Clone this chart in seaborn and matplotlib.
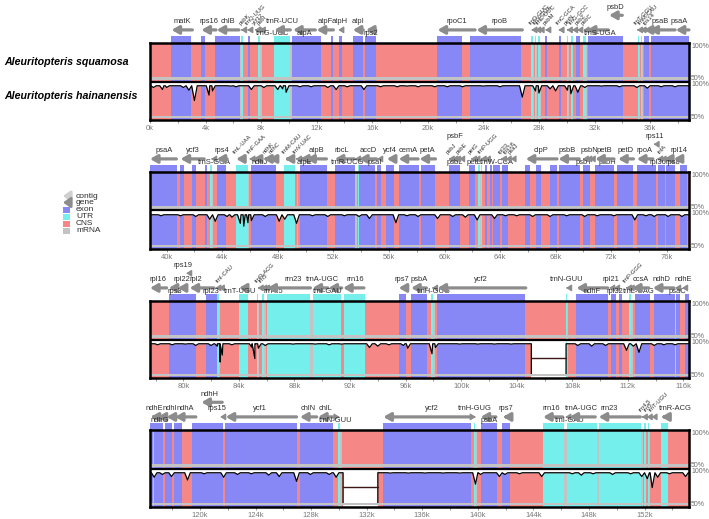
import numpy as np
import matplotlib
matplotlib.use("Agg")
import matplotlib.pyplot as plt
from matplotlib.patches import Rectangle
import seaborn as sns

# ---------------- data (positions in kb) ----------------
panel_starts = [0.0, 38.8, 77.6, 116.4]
panel_len = 38.8
species = ["Aleuritopteris squamosa", "Aleuritopteris hainanensis"]
legend_names = ["contig", "gene", "exon", "UTR", "CNS", "mRNA"]

exon_blocks = [
    (1.5, 2.98), (3.68, 3.93), (4.68, 6.5), (7.05, 7.2), (10.25, 12.3), (13.0, 13.2),
    (13.6, 13.85), (14.63, 15.35), (15.5, 16.25), (20.63, 22.43), (23.0, 26.73),
    (28.45, 28.55), (29.45, 29.55), (30.68, 30.93), (31.5, 34.05), (35.55, 35.93),
    (36.1, 40.73),
    (40.93, 41.23), (41.8, 42.1), (42.73, 42.9), (43.6, 44.3), (46.1, 47.9), (49.6, 51.53),
    (52.15, 53.55), (53.85, 54.98), (55.15, 55.4), (55.8, 56.4), (56.7, 58.15), (58.28, 59.35),
    (60.3, 61.1), (61.73, 62.23), (62.9, 63.05), (63.3, 63.4), (63.48, 63.98), (64.15, 64.6),
    (65.8, 66.18), (66.6, 66.98), (67.6, 68.1), (68.23, 69.73), (69.98, 70.48), (70.85, 72.23),
    (72.4, 73.6), (73.85, 75.23), (75.4, 75.85), (75.98, 76.6), (76.98, 77.48),
    (78.95, 80.9), (81.6, 82.4), (95.53, 96.03), (96.4, 97.53), (98.28, 104.6),
    (108.28, 110.58), (110.82, 111.17), (111.36, 111.6), (112.49, 113.57), (113.86, 115.37),
    (115.5, 115.78), (116.09, 117.33),
    (117.5, 118.0), (118.15, 118.7), (119.45, 121.65), (121.83, 126.95), (127.2, 129.58),
    (133.15, 139.5), (140.25, 141.38), (141.75, 142.28),
]

utr_blocks = [
    (6.58, 6.68), (7.8, 7.95), (8.93, 10.05), (27.45, 27.6), (27.7, 27.82), (27.95, 28.08),
    (30.0, 30.12), (30.3, 30.43), (31.18, 31.35), (35.1, 35.2), (35.35, 35.45),
    (43.1, 43.25), (44.98, 45.85), (48.48, 49.23), (53.75, 53.85), (62.4, 62.55), (62.62, 62.73),
    (82.4, 82.55), (84.03, 84.65), (85.3, 85.38), (85.65, 85.8), (86.03, 89.15), (89.35, 91.35),
    (91.53, 93.1), (97.85, 97.95), (107.55, 107.65), (112.1, 112.2),
    (129.95, 130.05), (139.7, 139.8), (144.7, 146.2), (146.45, 148.58), (148.7, 151.75),
    (151.95, 152.13), (152.25, 152.32), (153.15, 153.7),
]

mrna_lines = [
    (6.5, 6.58), (7.95, 8.05), (10.05, 10.22), (27.6, 27.66), (27.82, 27.88), (28.08, 28.14),
    (30.12, 30.18), (30.43, 30.48), (31.35, 31.45), (35.2, 35.26), (35.45, 35.5),
    (43.25, 43.35), (45.85, 45.92), (49.35, 49.45), (53.55, 53.72), (62.55, 62.62),
    (82.55, 82.65), (85.38, 85.45), (85.8, 85.95), (89.15, 89.3), (97.95, 98.08),
    (107.65, 107.72), (112.25, 112.35), (115.37, 115.5), (116.62, 116.68),
    (130.05, 130.2), (139.8, 139.93), (146.2, 146.45), (148.58, 148.7), (151.75, 151.92),
    (152.32, 152.4),
]

gap_blocks = [(105.05, 107.55), (130.3, 132.8)]

# identity of A. hainanensis vs the reference: baseline and read-off dips
baseline_pct = 95.5
dip_pos = [
    0.25, 0.9, 1.2, 2.4, 2.8, 3.2, 4.25, 4.5, 5.8, 6.2, 7.3, 8.2, 9.2, 9.55, 9.8, 10.8, 11.6,
    12.8, 13.4, 14.2, 15.4, 16.6, 17.8, 18.5, 19.3, 20.5, 21.4, 22.5, 24.0, 25.2, 26.8, 27.75,
    28.0, 28.8, 29.2, 30.05, 30.3, 30.8, 31.3, 32.5, 33.8, 35.05, 35.8, 36.8, 37.8,
    39.6, 41.0, 42.1, 43.1, 43.5, 44.35, 44.7, 45.3, 45.55, 45.85, 46.1, 47.1, 48.1, 48.5,
    49.35, 50.5, 51.6, 52.8, 53.85, 54.6, 56.5, 57.3, 58.1, 59.5, 60.6, 61.5, 62.35, 63.6,
    64.4, 65.2, 66.35, 67.6, 68.8, 70.1, 71.0, 72.2, 73.7, 74.5, 75.1, 76.1, 77.1,
    78.15, 79.2, 80.15, 80.9, 82.0, 82.45, 82.65, 82.8, 83.5, 84.95, 85.15, 85.4, 85.9, 87.9,
    89.5, 90.5, 91.4, 93.4, 94.0, 94.8, 95.85, 96.15, 97.9, 98.15, 99.9, 101.2, 102.4, 103.6,
    108.4, 109.4, 110.4, 111.9, 112.4, 112.8, 113.9, 114.6, 115.4, 116.2,
    116.7, 117.3, 117.95, 119.1, 120.3, 121.7, 122.7, 123.7, 124.95, 125.7, 126.95, 127.95,
    129.3, 129.8, 133.7, 135.0, 136.2, 137.5, 138.7, 139.83, 140.2, 141.55, 141.95, 143.0,
    144.6, 146.8, 147.45, 148.3, 149.7, 151.0, 151.8, 152.2, 152.55, 152.95, 153.8, 154.95,
]
dip_pct = [
    93, 90, 93, 93, 89, 74, 82, 88, 95, 94, 90, 93, 90, 91, 86, 94, 94,
    93, 90, 94, 90, 94, 94, 95, 94, 94, 94, 94, 95, 94, 79, 88,
    85, 91, 88, 89, 84, 86, 93, 95, 94, 93, 92, 94, 94,
    94, 94, 93, 89, 86, 93, 92, 83, 79, 84, 87, 93, 86, 89,
    83, 94, 93, 94, 93, 90, 84, 94, 93, 90, 93, 92, 88, 90,
    94, 94, 93, 93, 94, 93, 94, 94, 88, 94, 93, 93, 93,
    94, 94, 95, 93, 93, 92, 69, 79, 94, 90, 74, 89, 93, 95,
    95, 94, 95, 90, 92, 94, 93, 89, 81, 90, 95, 95, 95, 95,
    93, 92, 93, 86, 92, 83, 93, 94, 94, 90,
    89, 93, 90, 85, 94, 89, 93, 94, 92, 90, 83, 93,
    93, 89, 95, 95, 95, 95, 95, 79, 93, 90, 93, 94,
    90, 94, 92, 94, 93, 94, 90, 87, 74, 89, 94, 90,
]

# genes: (name, start, end, strand, label place, [label x])
genes_p1 = [
    ("matK", 1.55, 3.05, -1, "a"), ("rps16", 3.7, 4.75, -1, "a"), ("chlB", 4.8, 6.4, -1, "a"),
    ("psbK", 6.55, 6.68, -1, "r"), ("trnQ-UUG", 7.0, 7.12, -1, "r"), ("ycf12", 7.55, 7.66, -1, "r"),
    ("psbI", 7.9, 8.0, -1, "r"), ("trnG-UCC", 8.2, 8.32, 1, "b", 8.85),
    ("trnR-UCU", 8.95, 10.1, -1, "a"), ("atpA", 10.3, 11.9, -1, "b"), ("atpF", 12.0, 13.2, -1, "a"),
    ("atpH", 13.55, 13.75, -1, "a"), ("atpI", 14.6, 15.35, -1, "a"), ("rps2", 15.55, 16.25, -1, "b"),
    ("rpoC1", 20.7, 23.4, -1, "a"), ("rpoB", 23.5, 26.8, -1, "a"),
    ("trnD-GUC", 27.45, 27.55, -1, "r"), ("trnY-GUA", 27.72, 27.82, -1, "r"),
    ("trnE-UUC", 27.97, 28.07, -1, "r"), ("psbM", 28.45, 28.55, -1, "r"),
    ("trnC-GCA", 29.4, 29.5, -1, "r"), ("petN", 30.0, 30.1, -1, "r"),
    ("trnG-GCC", 30.38, 30.48, -1, "r"), ("psbZ", 30.75, 30.85, -1, "r"),
    ("psbC", 31.2, 31.3, -1, "r"), ("trnS-UGA", 31.45, 33.0, -1, "b", 32.4),
    ("psbD", 33.05, 34.0, -1, "t"), ("trnT-GGU", 35.05, 35.15, -1, "r"),
    ("trnM-CAU", 35.3, 35.4, -1, "r"), ("rps14", 35.55, 35.9, -1, "r"),
    ("psaB", 35.95, 37.8, -1, "a", 36.7), ("psaA", 37.85, 38.8, -1, "a", 38.1),
]
genes_p2 = [
    ("psaA", 38.8, 40.7, -1, "a", 39.8), ("ycf3", 41.0, 42.7, -1, "a"),
    ("trnS-GGA", 43.2, 43.3, -1, "b", 43.4), ("rps4", 43.6, 44.35, -1, "a"),
    ("trnL-UAA", 45.0, 45.6, -1, "r", 45.0), ("trnF-GAA", 45.95, 46.05, -1, "r"),
    ("ndhJ", 46.2, 46.85, -1, "b", 46.7), ("ndhK", 46.95, 47.3, -1, "r"),
    ("ndhC", 47.35, 47.75, -1, "r"), ("trnM-CAU", 48.5, 48.85, -1, "r", 48.55),
    ("trnV-UAC", 49.3, 49.4, -1, "r"), ("atpE", 49.6, 50.0, -1, "b", 49.95),
    ("atpB", 50.05, 51.5, -1, "a"), ("rbcL", 52.1, 53.5, -1, "a", 52.6),
    ("trnR-UCG", 53.55, 53.7, -1, "b", 53.0), ("accD", 53.85, 55.1, -1, "a"),
    ("psaI", 55.15, 55.3, -1, "b", 54.95), ("ycf4", 55.85, 56.35, -1, "a"),
    ("cemA", 56.7, 58.1, -1, "a"), ("petA", 58.2, 59.35, -1, "a"),
    ("psbJ", 60.3, 60.4, -1, "r"), ("psbL", 60.55, 60.65, -1, "b", 60.7),
    ("psbF", 60.75, 60.85, -1, "T", 60.75), ("psbE", 61.05, 61.15, -1, "r"),
    ("petG", 61.9, 62.0, -1, "r"), ("petL", 62.15, 62.25, -1, "b", 62.1),
    ("trnP-UGG", 62.6, 62.7, -1, "r"), ("trnW-CCA", 62.9, 63.0, -1, "b", 63.75),
    ("rpl33", 64.05, 64.15, -1, "r"), ("rps18", 64.4, 64.5, -1, "r"), ("psaJ", 64.75, 64.85, -1, "r"),
    ("clpP", 65.85, 68.1, -1, "a"), ("psbB", 68.2, 69.7, -1, "a", 68.85),
    ("psbT", 69.95, 70.1, -1, "b", 70.05), ("psbN", 70.2, 70.35, -1, "a", 70.4),
    ("psbH", 70.45, 70.6, -1, "b", 71.7), ("petB", 70.85, 72.2, -1, "a", 71.5),
    ("petD", 72.5, 73.6, -1, "a"), ("rpoA", 73.85, 75.0, -1, "a"),
    ("rps11", 75.05, 75.2, -1, "t"), ("rpl36", 75.3, 75.4, -1, "b", 75.35),
    ("infA", 75.55, 75.65, -1, "r"), ("rps8", 75.8, 76.3, -1, "b", 76.45),
    ("rpl14", 76.5, 77.1, -1, "a", 76.9),
]
genes_p3 = [
    ("rpl16", 77.6, 78.8, -1, "a", 78.15), ("rps3", 78.95, 79.5, -1, "b", 79.4),
    ("rpl22", 79.6, 80.15, -1, "a", 79.9), ("rps19", 80.2, 80.4, -1, "t", 79.95),
    ("rpl2", 80.45, 82.2, -1, "a", 80.9), ("rpl23", 82.3, 82.45, -1, "b", 82.0),
    ("trnI-CAU", 82.55, 82.65, -1, "r"), ("trnT-UGU", 84.0, 84.6, -1, "b", 84.1),
    ("trnR-ACG", 85.35, 85.45, -1, "r"), ("rrn5", 85.6, 85.7, -1, "r"),
    ("rrn4.5", 85.8, 86.0, -1, "b", 86.5), ("rrn23", 86.05, 89.15, -1, "a", 87.9),
    ("trnA-UGC", 89.3, 90.4, -1, "a", 90.0), ("trnI-GAU", 90.45, 91.4, -1, "b", 90.4),
    ("rrn16", 91.5, 93.0, -1, "a", 92.4), ("rps7", 95.5, 96.0, -1, "a", 95.75),
    ("psbA", 96.4, 97.5, -1, "a", 96.95), ("trnH-GUG", 97.9, 98.0, -1, "b", 98.0),
    ("ycf2", 98.3, 104.65, -1, "a", 101.4), ("trnN-GUU", 107.55, 107.65, -1, "a"),
    ("ndhF", 108.3, 110.55, -1, "b", 109.4), ("rpl21", 110.65, 110.85, -1, "a", 110.8),
    ("rpl32", 111.0, 111.15, -1, "b", 111.05), ("trnP-GGG", 111.85, 111.95, -1, "r"),
    ("trnL-UAG", 112.05, 112.15, -1, "b", 112.8), ("ccsA", 112.3, 113.5, -1, "a", 112.9),
    ("ndhD", 113.8, 115.3, -1, "a", 114.45), ("psaC", 115.4, 115.55, -1, "b", 115.55),
    ("ndhE", 115.9, 116.15, -1, "a", 116.0),
]
genes_p4 = [
    ("ndhE", 116.45, 116.8, -1, "a", 116.7), ("ndhG", 116.95, 117.45, -1, "b", 117.1),
    ("ndhI", 117.6, 118.1, -1, "a", 117.85), ("ndhA", 118.2, 119.7, -1, "a", 118.95),
    ("ndhH", 120.1, 121.6, -1, "t", 120.65), ("rps15", 121.45, 121.7, -1, "a", 121.2),
    ("ycf1", 121.85, 126.95, -1, "a", 124.3), ("chlN", 127.2, 128.4, -1, "a"),
    ("chlL", 128.5, 129.6, -1, "a"), ("trnN-GUU", 129.95, 130.05, 1, "b", 129.75),
    ("ycf2", 133.2, 139.6, -1, "a", 136.7), ("trnH-GUG", 139.75, 139.85, 1, "a"),
    ("psbA", 140.2, 141.3, -1, "b", 140.8), ("rps7", 141.8, 142.25, -1, "a"),
    ("rrn16", 144.7, 146.1, -1, "a", 145.3), ("trnI-GAU", 146.3, 146.45, -1, "b", 146.6),
    ("trnA-UGC", 146.6, 148.45, -1, "a", 147.45), ("rrn23", 148.7, 151.7, -1, "a", 149.45),
    ("rrn4.5", 151.8, 151.9, -1, "r"), ("rrn5", 152.15, 152.25, -1, "r"),
    ("trnT-UGU", 152.5, 152.6, -1, "r"), ("trnR-ACG", 153.2, 153.55, -1, "a", 154.2),
]
panel_genes = [genes_p1, genes_p2, genes_p3, genes_p4]

# ---------------- style ----------------
EXON = "#8787f5"
UTR = "#74efec"
CNS = "#f58787"
MRNA = "#c3c3c3"
GENE = "#8c8c8c"
CONTIG = "#cfcfcf"
TXT = "#2e2e2e"
DIP_HALF = 0.2

sns.set_theme(style="white")
plt.rcParams["font.family"] = ["Liberation Sans", "DejaVu Sans"]

W, H = 709, 519
panel_top_px = [43, 172, 301, 430]
box_h = 77


def to_y(pct):
    return 0.075 + (np.asarray(pct, dtype=float) - 50) / 50 * 0.895


def draw_gene(ax, g):
    name, s, e, strand, pos = g[:5]
    lx = g[5] if len(g) > 5 else (s + e) / 2
    ay = 2.72 if pos == "t" else 2.34
    head, tail = (s, e) if strand < 0 else (e, s)
    short = (e - s) < 0.3
    style = "-|>,head_length=0.25,head_width=0.16" if short else "-|>,head_length=0.35,head_width=0.2"
    ax.annotate("", xy=(head, ay), xytext=(tail, ay), annotation_clip=False,
                arrowprops=dict(arrowstyle=style, lw=1.0 if short else 2.3, color=GENE,
                                shrinkA=0, shrinkB=0))
    if pos == "a":
        ax.text(lx, 2.56, name, ha="center", va="center", fontsize=5.4, color=TXT, clip_on=False)
    elif pos == "b":
        ax.text(lx, 2.25, name, ha="center", va="center", fontsize=5.4, color=TXT, clip_on=False)
    elif pos in ("t", "T"):
        ax.text(lx, 2.93, name, ha="center", va="center", fontsize=5.4, color=TXT, clip_on=False)
    else:
        ax.text(lx - 0.05, 2.45, name, ha="left", va="bottom", fontsize=4.2, color=TXT,
                rotation=45, rotation_mode="anchor", clip_on=False)


fig = plt.figure(figsize=(W / 100, H / 100), dpi=100)
ov = fig.add_axes([0, 0, 1, 1], zorder=0)
ov.set_xlim(0, W)
ov.set_ylim(H, 0)
ov.axis("off")

for i, x0 in enumerate(panel_starts):
    x1 = x0 + panel_len
    top = panel_top_px[i]
    ax = fig.add_axes([150 / W, 1 - (top + box_h) / H, 539 / W, box_h / H], zorder=2)
    ax.set_facecolor(CNS)

    # feature blocks (exon / UTR also poke out above the box)
    for blocks, col in [(exon_blocks, EXON), (utr_blocks, UTR)]:
        for s, e in blocks:
            s2, e2 = max(s, x0), min(e, x1)
            if e2 > s2:
                ax.add_patch(Rectangle((s2, 0), e2 - s2, 2.18, facecolor=col, lw=0,
                                       clip_on=False, zorder=1))
    for s, e in mrna_lines:
        if x0 <= s < x1:
            ax.add_patch(Rectangle((s, 0), e - s, 2.0, facecolor=MRNA, lw=0, zorder=1.5))

    # conservation curve of the lower track
    pieces = [[x0, x1, False, False]]
    for g0, g1 in gap_blocks:
        if x0 < g0 < x1:
            pieces[-1][1] = g0
            pieces[-1][3] = True
            pieces.append([g1, x1, True, False])
    for a, b, gap_left, gap_right in pieces:
        pts = [(a, baseline_pct), (b, baseline_pct)]
        for p, v in zip(dip_pos, dip_pct):
            if a + DIP_HALF < p < b - DIP_HALF:
                pts += [(p - DIP_HALF, baseline_pct), (p, v), (p + DIP_HALF, baseline_pct)]
        pts.sort()
        if gap_left:
            pts.insert(0, (a, 50))
        if gap_right:
            pts.append((b, 50))
        xs = np.array([p[0] for p in pts])
        ys = to_y([p[1] for p in pts])
        ax.fill_between(xs, ys, 1.0, color="white", lw=0, zorder=3)
        sns.lineplot(x=xs, y=ys, ax=ax, color="black", linewidth=0.9, sort=False,
                     estimator=None, zorder=5)
    for g0, g1 in gap_blocks:
        if x0 < g0 < x1:
            ax.add_patch(Rectangle((g0, 0), g1 - g0, 1.0, facecolor="white", lw=0, zorder=4))
            ax.plot([g0, g1], [to_y(75)] * 2, color="#3d1616", lw=1.0, zorder=5)

    # 50% bands, separator, frame
    for base in (0.0, 1.0):
        ax.axhspan(base + 0.04, base + 0.11, color=MRNA, lw=0, zorder=6)
    ax.axhline(1.0, color="black", lw=1.6, zorder=7)
    for sp in ax.spines.values():
        sp.set_visible(True)
        sp.set_color("black")
        sp.set_linewidth(1.8)
        sp.set_zorder(8)

    tr = ax.get_yaxis_transform()
    for yv, lab in [(1.92, "100%"), (1.08, "50%"), (0.92, "100%"), (0.07, "50%")]:
        ax.text(1.004, yv, lab, transform=tr, fontsize=5, color="#6e6e6e", va="center",
                ha="left", clip_on=False)

    for g in panel_genes[i]:
        draw_gene(ax, g)

    ax.set_xlim(x0, x1)
    ax.set_ylim(0, 2)
    major = np.arange(np.ceil(x0 / 4) * 4, x1, 4)
    ax.set_xticks(major)
    ax.set_xticklabels([f"{int(t)}k" for t in major])
    ax.set_xticks(np.arange(np.ceil(x0 / 2) * 2, x1, 2), minor=True)
    ax.set_yticks([])
    ax.set_xlabel("")
    ax.set_ylabel("")
    ax.tick_params(axis="x", which="both", bottom=True, length=2.5, width=0.6,
                   color="#888888", pad=1.0, labelsize=5.5, labelcolor="#7a7a7a")

# species names
ov.text(4, 62, species[0], fontsize=7.7, fontweight="bold", fontstyle="italic",
        ha="left", va="center", color="black")
ov.text(4, 96, species[1], fontsize=7.7, fontweight="bold", fontstyle="italic",
        ha="left", va="center", color="black")

# legend
leg_y = [196, 202.5, 209.5, 216.5, 223.5, 230.5]
for name, yy in zip(legend_names, leg_y):
    if name in ("contig", "gene"):
        ov.annotate("", xy=(63, yy), xytext=(71, yy),
                    arrowprops=dict(arrowstyle="-|>,head_length=0.35,head_width=0.25", lw=2.0,
                                    color=CONTIG if name == "contig" else GENE,
                                    shrinkA=0, shrinkB=0))
    else:
        col = {"exon": EXON, "UTR": UTR, "CNS": CNS, "mRNA": MRNA}[name]
        ov.add_patch(Rectangle((63, yy - 3), 7, 6, facecolor=col, lw=0))
    ov.text(76, yy, name, fontsize=6, color=TXT, ha="left", va="center")

fig.savefig("out.png", dpi=100)
